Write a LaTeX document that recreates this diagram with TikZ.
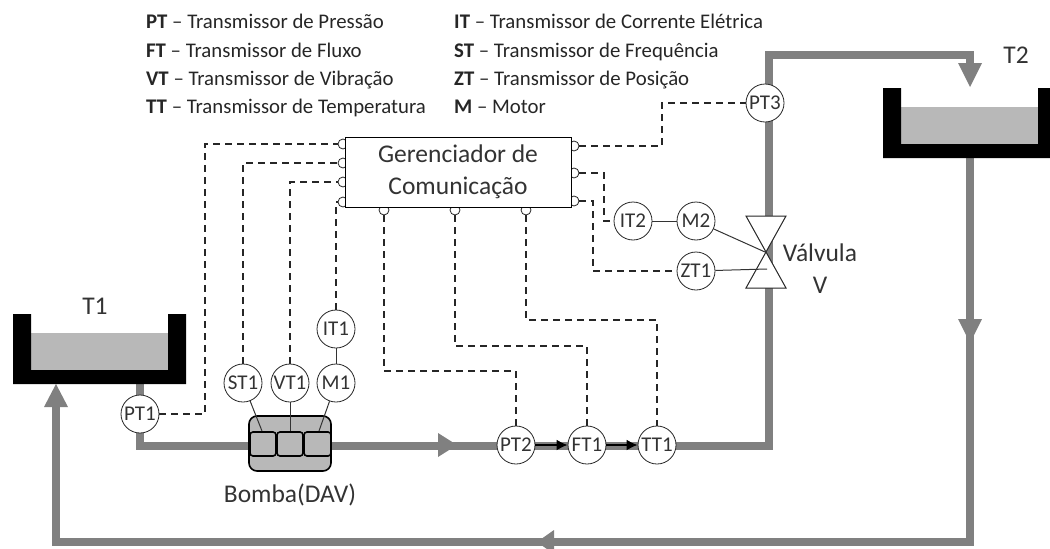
\documentclass[tikz,border=0pt]{standalone}
\usepackage{fontspec}
\setmainfont{Carlito}
\usepackage{tikz}
\usetikzlibrary{positioning,calc,arrows.meta}
\definecolor{pipegray}{gray}{0.5}
\definecolor{liquidgray}{gray}{0.72}
\tikzset{
	instr/.style={circle,draw=black!85,fill=white,line width=0.8pt,minimum size=38pt,inner sep=0pt,font=\fontsize{21}{21}\selectfont,text=black!80},
	pipe/.style={pipegray,line width=7.5pt},
	signal/.style={black!85,dash pattern=on 6.5pt off 5.5pt,line width=1.3pt},
	wire/.style={black!80,line width=1pt},
	flowhead/.style={pipegray,fill=pipegray,draw=none},
	legend/.style={anchor=base west,inner sep=0pt,font=\fontsize{20.8}{20.8}\selectfont,text=black!85},
	label/.style={inner sep=0pt,font=\fontsize{25.5}{32}\selectfont,text=black!80,align=center},
	plug/.style={circle,draw=black!85,fill=white,line width=0.8pt,minimum size=10pt,inner sep=0pt}
}
\begin{document}
\begin{tikzpicture}[x=1pt,y=-1pt]
	\useasboundingbox (0,0) rectangle (1050,549);
	% pipes
	\draw[pipe] (140,384) -- (140,446) -- (769,446) -- (769,55) -- (970,55) -- (970,70);
	\draw[pipe] (970,158) -- (970,542) -- (56,542) -- (56,400);
	\fill[flowhead] (438,433) -- (457,445) -- (438,457) -- cycle;
	\fill[flowhead] (958,63) -- (982,63) -- (970,87) -- cycle;
	\fill[flowhead] (958,319) -- (982,319) -- (970,343) -- cycle;
	\fill[flowhead] (554,530) -- (537,542) -- (554,554) -- cycle;
	\fill[flowhead] (44,407) -- (56,384) -- (68,407) -- cycle;
	% tanks
	\fill[liquidgray] (31,333) rectangle (168,370);
	\fill[black] (13,314) -- (31,314) -- (31,370) -- (168,370) -- (168,314) -- (186,314) -- (186,384) -- (13,384) -- cycle;
	\fill[liquidgray] (901,107) rectangle (1038,144);
	\fill[black] (883,88) -- (901,88) -- (901,144) -- (1038,144) -- (1038,88) -- (1056,88) -- (1056,158) -- (883,158) -- cycle;
	\node[label] (t1) at (95,306) {T1};
	\node[label] (t2) at (1016,55) {T2};
	% valve
	\filldraw[fill=white,draw=black!85,line width=1pt] (746,216) -- (786,216) -- (746,288) -- (786,288) -- cycle;
	\node[label] (valvula) at (820,269) {Válvula\\V};
	% pump
	\filldraw[fill=liquidgray,draw=black,line width=1.6pt,rounded corners=8pt] (249,416) rectangle (331,471);
	\foreach \xa/\xb in {250/276,277/303,304/331}
		\draw[fill=liquidgray,draw=black,line width=1.6pt,rounded corners=3pt] (\xa,432) rectangle (\xb,456);
	\node[label] (bomba) at (290,495) {Bomba(DAV)};
	% manager
	\foreach \name/\x/\y in {la/343/144,lb/343/163,lc/343/182,ld/343/202,ra/574/146,rb/574/173,rc/574/201,ba/384/210,bb/455/210,bc/526/210}
		\node[plug] (\name) at (\x,\y) {};
	\node[rectangle,draw=black,fill=white,line width=1pt,minimum width=226pt,minimum height=70pt,inner sep=0pt,align=center,font=\fontsize{25.5}{32}\selectfont,text=black!80] (gerenciador) at (458,172) {Gerenciador de\\Comunicação};
	% instruments
	\foreach \name/\x/\y in {PT1/140/414,ST1/243/383,VT1/290/383,M1/336/383,IT1/336/329,PT2/516/445,FT1/587/445,TT1/657/445,PT3/765/103,IT2/633/221,M2/696/221,ZT1/696/271}
		\node[instr] (\name) at (\x,\y) {\name};
	\draw[black,line width=2pt,-{Latex[length=11pt,width=11pt]}] (PT2) -- (FT1);
	\draw[black,line width=2pt,-{Latex[length=11pt,width=11pt]}] (FT1) -- (TT1);
	% wires
	\coordinate (pumpa) at (262,431);
	\coordinate (pumpb) at (290,431);
	\coordinate (pumpc) at (319,431);
	\coordinate (valvem) at (765,252);
	\coordinate (valvez) at (767,269);
	\draw[wire] (ST1) -- (pumpa);
	\draw[wire] (VT1) -- (pumpb);
	\draw[wire] (M1) -- (pumpc);
	\draw[wire] (IT1) -- (M1);
	\draw[wire] (IT2) -- (M2);
	\draw[wire] (M2) -- (valvem);
	\draw[wire] (ZT1) -- (valvez);
	% signals
	\draw[signal] (PT1) -| (205,144) -- (la);
	\draw[signal] (ST1.north) |- (lb);
	\draw[signal] (VT1.north) |- (lc);
	\draw[signal] (IT1.north) |- (ld);
	\draw[signal] (ba) -- (384,371) -| (PT2.north);
	\draw[signal] (bb) -- (455,346) -| (FT1.north);
	\draw[signal] (bc) -- (526,320) -| (TT1.north);
	\draw[signal] (ra) -| (662,103) -- (PT3);
	\draw[signal] (rb) -| (604,221) -- (IT2);
	\draw[signal] (rc) -| (593,271) -- (ZT1);
	% legend
	\foreach \y/\key/\val in {28/PT/Transmissor de Pressão,57/FT/Transmissor de Fluxo,85/VT/Transmissor de Vibração,113/TT/Transmissor de Temperatura}
		\node[legend] at (146,\y) {\textbf{\key} -- \val};
	\foreach \y/\key/\val in {28/IT/Transmissor de Corrente Elétrica,57/ST/Transmissor de Frequência,85/ZT/Transmissor de Posição,113/M/Motor}
		\node[legend] at (454,\y) {\textbf{\key} -- \val};
\end{tikzpicture}
\end{document}
